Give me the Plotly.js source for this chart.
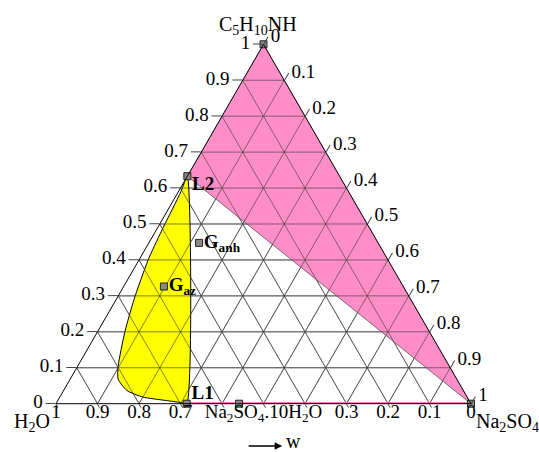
<!DOCTYPE html>
<html>
<head>
<meta charset="utf-8">
<script src="https://cdn.plot.ly/plotly-3.0.1.min.js"></script>
<style>
  body { margin: 0; background: #fff; }
  #chart { width: 539px; height: 452px; }
</style>
</head>
<body>
<div id="chart"></div>
<script>
// Tick values shared by the three axes
const tickVals = [0, 0.1, 0.2, 0.3, 0.4, 0.5, 0.6, 0.7, 0.8, 0.9, 1];
const tickText = ['0', '0.1', '0.2', '0.3', '0.4', '0.5', '0.6', '0.7', '0.8', '0.9', '1'];
// bottom axis labels (H2O fraction); the hydrate label sits over 0.4 - 0.6
const bLabelVals = [0, 0.1, 0.2, 0.3, 0.5, 0.7, 0.8, 0.9, 1];
const bLabelText = ['0', '0.1', '0.2', '0.3', 'Na<sub>2</sub>SO<sub>4</sub>.10H<sub>2</sub>O', '0.7', '0.8', '0.9', '1'];

// Yellow region boundary (a = C5H10NH, c = Na2SO4)
const yellowA = [0.633, 0.59, 0.48, 0.40, 0.29, 0.20, 0.106, 0.069, 0.037, 0.0185, 0.009, 0.003, 0, 0.633];
const yellowC = [0, 0.006, 0.014, 0.022, 0.043, 0.066, 0.097, 0.115, 0.152, 0.2, 0.26, 0.30, 0.315, 0];

// Pink triangle: C5H10NH vertex, Na2SO4 vertex, L2
const pinkA = [1, 0, 0.633, 1];
const pinkC = [0, 1, 0, 0];

// Base line L1 -> Na2SO4
const baseA = [0, 0];
const baseC = [0.315, 1];

// Marked points
const ptNames = ['C5H10NH', 'L2', 'L1', 'Na2SO4.10H2O', 'Na2SO4', 'Gaz', 'Ganh'];
const ptA = [1, 0.633, 0, 0, 0, 0.326, 0.4475];
const ptC = [0, 0, 0.315, 0.441, 1, 0.097, 0.121];

// Point labels (index into the points above)
const labelIdx = [1, 2, 5, 6];
const labelText = [' <b>L2</b>', ' <b>L1</b>', ' <b>G<sub>az</sub></b>', ' <b>G<sub>anh</sub></b>'];
const labelPos = ['bottom right', 'top right', 'middle right', 'middle right'];

const bOf = (a, c) => a.map((v, i) => 1 - v - c[i]);
const serif = 'Liberation Serif';
const gridColor = 'rgba(60,60,60,0.8)';

const traces = [];

traces.push({
    type: 'scatterternary', mode: 'lines',
    a: pinkA, b: bOf(pinkA, pinkC), c: pinkC,
    fill: 'toself', fillcolor: '#ff8ec8',
    line: { color: '#555', width: 0.8 },
    hoverinfo: 'skip'
});

traces.push({
    type: 'scatterternary', mode: 'lines',
    a: yellowA, b: bOf(yellowA, yellowC), c: yellowC,
    fill: 'toself', fillcolor: '#ffff00',
    line: { color: '#000', width: 1, shape: 'spline', smoothing: 0.6 },
    hoverinfo: 'skip'
});

// grid lines redrawn over the filled regions
tickVals.slice(1, -1).forEach(v => {
    const w = 1 - v;
    traces.push({ type: 'scatterternary', mode: 'lines', a: [v, v], b: [w, 0], c: [0, w],
        line: { color: gridColor, width: 0.8 }, hoverinfo: 'skip' });
    traces.push({ type: 'scatterternary', mode: 'lines', b: [v, v], a: [w, 0], c: [0, w],
        line: { color: gridColor, width: 0.8 }, hoverinfo: 'skip' });
    traces.push({ type: 'scatterternary', mode: 'lines', c: [v, v], a: [w, 0], b: [0, w],
        line: { color: gridColor, width: 0.8 }, hoverinfo: 'skip' });
});

traces.push({
    type: 'scatterternary', mode: 'lines',
    a: baseA, b: bOf(baseA, baseC), c: baseC,
    line: { color: '#ff5cb0', width: 3 },
    hoverinfo: 'skip'
});

traces.push({
    type: 'scatterternary', mode: 'markers',
    a: ptA, b: bOf(ptA, ptC), c: ptC,
    text: ptNames, cliponaxis: false,
    marker: { symbol: 'square', size: 7, color: '#8a8a8a', line: { color: '#222', width: 1 } },
    hoverinfo: 'text'
});

const lA = labelIdx.map(i => ptA[i]);
const lC = labelIdx.map(i => ptC[i]);
traces.push({
    type: 'scatterternary', mode: 'text',
    a: lA, b: bOf(lA, lC), c: lC,
    text: labelText, textposition: labelPos, cliponaxis: false,
    textfont: { family: serif, size: 19, color: '#000' },
    hoverinfo: 'skip'
});

// bottom axis labels drawn as text just under the base
traces.push({
    type: 'scatterternary', mode: 'text',
    a: bLabelVals.map(() => 0), b: bLabelVals, c: bLabelVals.map(v => 1 - v),
    text: bLabelText, textposition: 'bottom center', cliponaxis: false,
    textfont: { family: serif, size: 19, color: '#000' },
    hoverinfo: 'skip'
});

function axis(ticktext, ticklen, showLabels) {
    return {
        title: { text: ' ', font: { color: 'rgba(0,0,0,0)' } },
        tickmode: 'array', tickvals: tickVals, ticktext: ticktext,
        showticklabels: showLabels,
        tickfont: { family: serif, size: 19, color: '#000' },
        ticks: 'outside', ticklen: ticklen, tickcolor: '#444',
        linecolor: '#000', linewidth: 1,
        showgrid: true, gridcolor: '#777', gridwidth: 0.8
    };
}

const titleFont = { family: serif, size: 20, color: '#000' };

const layout = {
    width: 539, height: 452,
    margin: { l: 56, r: 68, t: 44, b: 48 },
    paper_bgcolor: '#fff',
    showlegend: false,
    font: { family: serif, size: 19, color: '#000' },
    ternary: {
        sum: 1,
        bgcolor: '#fff',
        aaxis: axis(tickText, 10, true),
        baxis: axis(tickText, 4, false),
        caxis: axis(tickText, 8, true)
    },
    annotations: [
        { xref: 'paper', yref: 'paper', x: 0.487, y: 1.05, xanchor: 'center', yanchor: 'middle',
          text: 'C<sub>5</sub>H<sub>10</sub>NH', showarrow: false, font: titleFont },
        { xref: 'paper', yref: 'paper', x: -0.058, y: -0.05, xanchor: 'center', yanchor: 'middle',
          text: 'H<sub>2</sub>O', showarrow: false, font: titleFont },
        { xref: 'paper', yref: 'paper', x: 1.007, y: -0.05, xanchor: 'left', yanchor: 'middle',
          text: 'Na<sub>2</sub>SO<sub>4</sub>', showarrow: false, font: titleFont },
        { xref: 'paper', yref: 'paper', x: 0.545, y: -0.117, ax: -35, ay: 0, text: '',
          showarrow: true, arrowhead: 2, arrowsize: 1, arrowwidth: 1.5, arrowcolor: '#000' },
        { xref: 'paper', yref: 'paper', x: 0.572, y: -0.103, xanchor: 'center', yanchor: 'middle',
          text: 'w', showarrow: false, font: titleFont }
    ]
};

Plotly.newPlot('chart', traces, layout, { displayModeBar: false, staticPlot: true });
</script>
</body>
</html>
